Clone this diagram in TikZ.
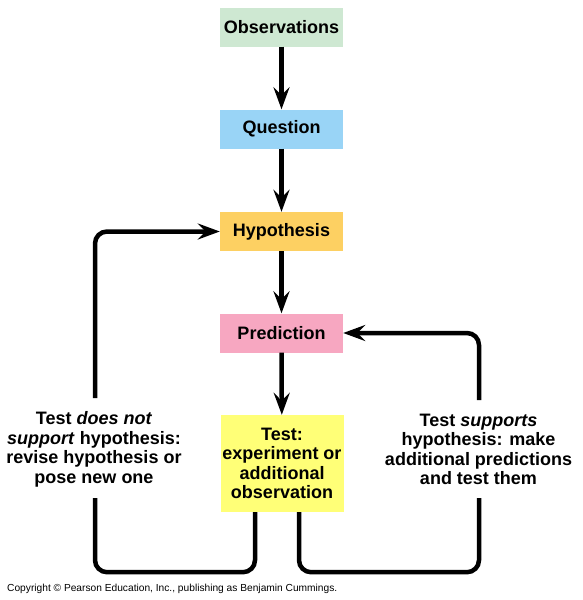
\documentclass[tikz,border=0pt]{standalone}
\usepackage{fontspec}
\setmainfont{Liberation Sans}
\usetikzlibrary{arrows.meta}
\definecolor{obsgreen}{RGB}{206,232,210}
\definecolor{quesblue}{RGB}{153,212,246}
\definecolor{hypgold}{RGB}{253,208,98}
\definecolor{predpink}{RGB}{247,167,193}
\definecolor{testyellow}{RGB}{255,255,119}
\newcommand{\stage}[4]{\node[stagebox, fill=#2] (#1) at #3 {#4};}

\begin{document}
\begin{tikzpicture}[x=1pt, y=-1pt,
        font=\fontsize{18}{19.5}\selectfont\bfseries,
        stagebox/.style={minimum width=123pt, minimum height=39pt, inner sep=0pt, align=center},
        flow/.style={line width=4.5pt, -{Stealth[length=22pt, width=16pt, inset=8pt]}},
        loopline/.style={line width=4.5pt, rounded corners=12pt},
        note/.style={align=center, inner sep=0pt}]
    \useasboundingbox (0,0) rectangle (582,600);
    % the five stages
    \stage{obs}{obsgreen}{(281.5,27)}{Observations}
    \stage{ques}{quesblue}{(281.5,129)}{Question}
    \stage{hyp}{hypgold}{(281.5,231.5)}{Hypothesis}
    \stage{pred}{predpink}{(281.5,333)}{Prediction}
    \node[stagebox, fill=testyellow, minimum height=97pt] (tst) at (282,463.5)
        {Test:\\experiment or\\additional\\observation};
    % straight arrows
    \draw[flow] (obs) -- (ques);
    \draw[flow] (ques) -- (hyp);
    \draw[flow] (hyp) -- (pred);
    \draw[flow] (pred) -- (tst);
    % loop labels
    \node[note] (nosup) at (94,449.5) {Test \textit{does not}\\\textit{support} hypothesis:\\revise hypothesis or\\pose new one};
    \node[note] (sup) at (478.5,449.5) {Test \textit{supports}\\hypothesis: make\\additional predictions\\and test them};
    \coordinate (nosupbot) at (95,498);
    \coordinate (nosuptop) at (95,398);
    \coordinate (supbot) at (479,498);
    \coordinate (suptop) at (479,400);
    % left loop
    \draw[loopline] ([xshift=-27pt]tst.south) -- ++(0,60) -| (nosupbot);
    \draw[loopline, flow] (nosuptop) |- (hyp.west);
    % right loop
    \draw[loopline] ([xshift=17pt]tst.south) -- ++(0,60) -| (supbot);
    \draw[loopline, flow] (suptop) |- (pred.east);
    % credit line
    \node[anchor=base west, inner sep=0pt, font=\fontsize{10.2}{12}\selectfont] (credit) at (7,591)
        {Copyright \textcopyright{} Pearson Education, Inc., publishing as Benjamin Cummings.};
\end{tikzpicture}
\end{document}
